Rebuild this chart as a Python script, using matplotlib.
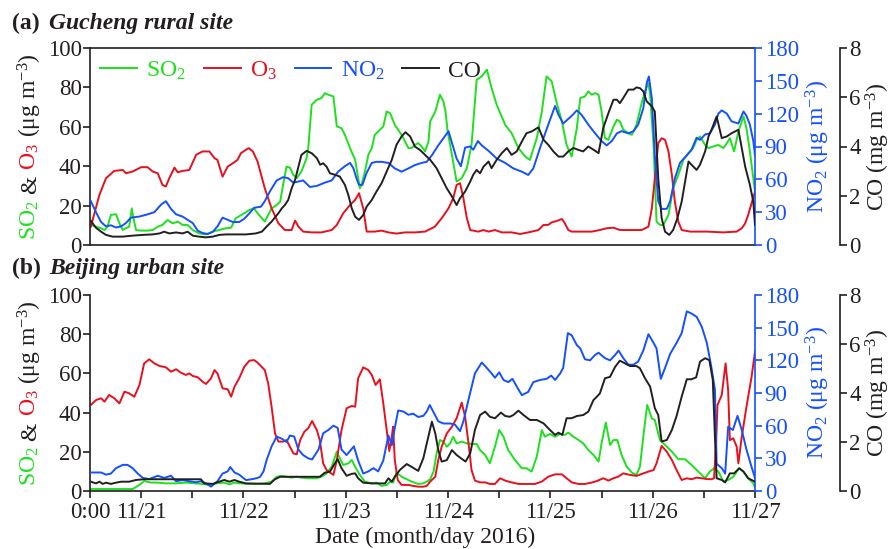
import matplotlib
matplotlib.use('Agg')
import matplotlib.pyplot as plt

plt.rcParams['font.family'] = ['Liberation Serif', 'DejaVu Serif']
plt.rcParams['mathtext.fontset'] = 'custom'
plt.rcParams['mathtext.rm'] = 'Liberation Serif'
plt.rcParams['mathtext.it'] = 'Liberation Serif:italic'
plt.rcParams['mathtext.bf'] = 'Liberation Serif:bold'

GREEN = '#1ee01e'
RED = '#e8101e'
BLUE = '#1450ff'
BLACK = '#231f20'

# ---------------- data: (hours since 11/21 0:00, value) ----------------
# (a) Gucheng rural site
gc_so2 = [(0.2,10.2),(1.4,9.3),(2.6,8.5),(3.4,7.6),(4.1,9.3),(4.9,15.3),(6.1,15.6),(6.9,11.0),(7.7,7.6),(8.4,8.5),(9.2,9.3),(9.8,18.6),(10.2,13.6),(10.8,7.6),(12.0,7.3),(13.5,7.3),(14.7,7.6),(15.9,9.3),(17.0,10.2),(18.2,12.7),(19.4,11.0),(20.6,11.9),(21.7,10.2),(22.9,10.2),(24.1,7.6),(25.6,5.9),(27.2,5.4),(28.8,6.8),(30.3,7.6),(31.9,8.5),(33.1,8.8),(34.2,13.6),(35.8,15.6),(37.4,17.8),(38.5,18.6),(39.3,16.1),(41.0,11.9),(41.8,15.3),(42.6,18.6),(43.8,20.3),(44.6,22.0),(45.3,30.5),(46.1,39.8),(46.9,39.3),(47.7,35.6),(48.5,33.9),(49.6,37.3),(50.8,44.1),(51.2,49.2),(52.0,71.2),(53.2,73.7),(54.3,74.6),(55.1,77.1),(55.9,76.3),(57.1,75.4),(57.9,60.2),(59.0,59.3),(59.8,55.9),(61.0,49.2),(62.2,43.2),(62.9,33.9),(63.3,28.8),(63.7,30.5),(64.5,37.3),(65.3,45.8),(66.1,49.2),(66.8,55.9),(68.0,58.5),(68.8,60.2),(69.6,67.8),(70.4,66.9),(71.5,61.0),(73.1,55.9),(74.7,49.2),(75.4,49.2),(76.2,50.8),(77.0,51.7),(77.8,50.0),(78.6,47.5),(79.4,52.5),(79.8,62.7),(81.0,67.8),(82.1,76.3),(82.9,72.9),(83.4,67.8),(83.9,57.6),(84.9,45.8),(86.0,32.2),(87.2,33.9),(88.4,39.0),(89.5,50.8),(90.7,83.9),(91.9,85.6),(93.1,89.0),(94.2,79.7),(95.4,71.2),(97.4,61.0),(98.9,56.8),(100.5,49.2),(102.1,44.9),(103.2,43.2),(104.8,54.2),(106.0,67.8),(107.1,85.6),(108.3,83.1),(109.5,72.0),(110.7,62.7),(111.8,50.8),(113.0,44.9),(114.2,59.3),(115.0,74.6),(116.1,75.4),(116.9,78.0),(117.7,76.3),(118.5,77.1),(119.3,76.3),(120.0,67.8),(120.8,54.2),(121.6,53.4),(122.8,60.2),(123.6,63.6),(124.3,62.7),(125.1,58.5),(126.3,56.8),(127.1,55.9),(128.2,61.0),(129.4,72.0),(130.2,78.0),(131.0,82.2),(131.4,76.3),(132.2,50.8),(132.9,11.9),(133.7,10.2),(134.5,10.2),(135.7,15.3),(136.8,28.8),(138.0,35.6),(139.2,43.2),(140.4,46.6),(141.5,49.2),(142.3,53.4),(143.1,55.1),(144.3,50.8),(145.1,49.2),(146.2,50.0),(147.4,50.8),(148.6,49.2),(149.4,51.7),(150.1,54.2),(151.1,47.5),(152.1,57.6),(153.3,65.3),(154.0,59.3),(154.8,47.5),(155.6,33.9),(156.0,27.1)]

gc_o3 = [(0.2,9.3),(2.2,25.4),(3.75,33.9),(5.7,37.6),(7.7,38.1),(8.4,36.4),(10.0,37.3),(12.0,39.5),(13.5,39.5),(14.7,37.3),(15.9,36.4),(17.0,30.5),(17.8,29.7),(18.6,33.9),(19.8,39.3),(20.6,36.9),(21.7,37.6),(23.3,38.1),(24.9,45.8),(26.4,47.5),(28.0,47.5),(29.2,44.1),(29.9,43.2),(31.1,34.7),(32.3,39.8),(33.5,41.5),(34.6,43.2),(35.4,46.6),(37.2,49.2),(38.2,47.5),(39.3,42.4),(41.0,28.8),(42.6,18.6),(44.2,11.0),(45.7,7.6),(47.3,7.6),(48.1,12.4),(48.9,9.3),(50.0,6.8),(52.0,6.4),(54.3,6.4),(56.7,7.6),(57.9,10.2),(59.4,16.1),(61.0,20.3),(62.2,22.9),(63.1,26.3),(64.1,18.6),(64.9,6.8),(66.8,6.8),(68.4,7.3),(70.0,6.4),(71.9,5.8),(73.9,6.4),(76.2,6.4),(78.6,6.8),(80.9,9.3),(82.5,13.6),(84.1,18.6),(85.2,23.7),(86.0,30.5),(86.8,31.4),(87.6,23.7),(88.4,13.6),(89.2,7.6),(91.1,6.8),(92.3,7.6),(93.5,6.8),(95.0,7.6),(96.6,6.4),(98.9,6.4),(100.9,5.6),(102.8,6.4),(105.2,7.6),(106.4,10.2),(107.5,10.2),(108.3,11.5),(109.5,12.2),(110.7,13.2),(111.4,11.0),(112.2,7.6),(113.0,6.8),(115.3,6.8),(117.7,6.8),(119.6,7.6),(121.2,8.5),(122.8,8.8),(124.3,7.6),(127.5,7.6),(129.4,7.6),(131.0,9.3),(131.8,18.6),(132.5,33.9),(133.3,51.7),(134.1,54.2),(134.9,53.4),(135.7,47.5),(136.5,35.6),(137.2,22.0),(138.0,11.9),(138.8,7.6),(140.8,6.8),(144.7,6.8),(148.6,6.4),(151.7,6.8),(152.9,8.5),(153.7,11.0),(154.4,15.3),(155.2,21.2),(156.0,27.1)]

gc_no2 = [(0.2,40),(1.4,30),(2.6,21),(3.75,17),(4.9,18),(6.1,16),(7.3,17),(8.4,20),(9.6,25),(11.6,26),(13.5,28),(15.1,30),(16.7,37),(17.8,40),(19.0,33),(20.2,28),(21.7,26),(22.9,23),(24.1,20),(25.3,13),(26.4,11),(27.6,10),(28.8,12),(29.9,17),(31.1,25),(32.3,23),(33.5,21),(35.0,21),(36.2,24),(37.4,29),(38.5,34),(40.1,35),(41.0,40),(42.2,49),(43.8,59),(45.3,62),(46.5,61),(47.7,57),(48.9,58),(50.0,59),(51.6,53),(53.2,54),(55.1,57),(56.7,59),(58.2,67),(59.8,72),(61.0,75),(61.8,70),(62.5,61),(63.1,55),(63.9,55),(64.9,66),(66.1,75),(67.2,76),(68.4,76),(70.0,75),(71.5,70),(73.1,67),(74.7,70),(76.2,73),(77.8,75),(79.0,76),(80.2,82),(81.7,91),(84.1,104),(86.0,79),(87.0,72),(88.0,89),(89.2,90),(89.9,87),(91.0,95),(91.9,91),(93.5,86),(95.4,79),(97.4,75),(99.3,70),(101.3,67),(102.8,64),(104.0,70),(105.6,89),(107.5,110),(109.1,127),(109.9,119),(111.0,111),(113.0,118),(114.2,123),(115.3,119),(116.9,110),(118.5,102),(120.0,95),(121.2,91),(122.4,95),(123.6,102),(124.7,104),(126.3,102),(127.5,104),(128.6,110),(129.8,125),(130.6,148),(131.1,154),(131.8,134),(132.5,82),(133.3,40),(134.1,33),(135.3,33),(136.1,40),(137.2,61),(138.4,75),(140.0,82),(141.1,87),(142.3,98),(143.1,96),(144.3,101),(145.4,102),(146.6,110),(147.4,120),(148.2,123),(149.4,120),(150.5,113),(152.1,111),(153.3,122),(154.0,118),(154.8,110),(155.6,95),(156.0,82)]

gc_co = [(0.2,0.98),(1.4,0.70),(2.6,0.54),(3.75,0.41),(5.3,0.34),(7.7,0.34),(10.0,0.38),(12.4,0.41),(14.7,0.43),(16.3,0.47),(17.4,0.54),(18.6,0.47),(20.2,0.51),(21.7,0.47),(22.9,0.54),(24.1,0.38),(25.6,0.34),(27.2,0.31),(28.8,0.34),(30.3,0.41),(31.9,0.43),(34.2,0.43),(36.6,0.43),(38.9,0.47),(40.3,0.54),(41.4,0.74),(42.6,0.95),(44.2,1.29),(45.0,1.49),(45.7,1.62),(46.5,1.83),(47.3,2.30),(48.1,2.64),(48.9,3.18),(49.6,3.66),(50.8,3.82),(52.0,3.73),(53.2,3.53),(54.0,3.26),(54.7,3.32),(55.5,3.18),(56.3,2.91),(57.5,2.85),(58.6,2.78),(59.8,2.44),(60.6,2.03),(61.4,1.49),(62.2,1.15),(63.1,1.02),(64.1,1.22),(64.9,1.56),(66.1,1.83),(67.2,2.17),(68.4,2.51),(69.6,2.98),(70.8,3.46),(71.9,4.07),(73.1,4.41),(74.0,4.58),(75.1,4.41),(76.2,4.00),(77.4,3.86),(78.6,3.66),(79.8,3.46),(81.3,3.12),(82.5,2.71),(83.7,2.30),(84.9,1.97),(86.0,1.62),(86.8,1.90),(88.0,2.17),(89.2,2.58),(89.9,2.85),(90.7,3.05),(91.5,2.91),(92.3,3.18),(93.5,3.39),(94.2,3.12),(95.4,3.46),(96.6,3.73),(97.8,3.94),(98.9,3.66),(100.1,3.80),(101.3,4.20),(102.4,4.54),(103.6,4.61),(105.2,4.78),(106.4,4.27),(107.5,4.07),(108.7,3.80),(109.9,3.59),(111.0,3.59),(112.2,3.80),(113.4,3.94),(114.6,3.86),(115.7,3.80),(116.9,4.00),(118.2,3.86),(119.3,3.73),(120.4,4.75),(121.6,5.35),(122.8,5.90),(123.6,5.90),(124.3,5.76),(125.1,5.97),(126.3,6.31),(127.5,6.31),(128.2,6.40),(129.0,6.37),(129.8,6.24),(130.6,5.83),(131.8,5.63),(132.5,5.42),(133.3,2.71),(134.1,1.09),(134.9,0.54),(135.9,0.41),(136.8,0.61),(137.8,1.09),(138.8,1.76),(139.6,2.58),(140.4,3.39),(141.1,3.26),(142.3,3.05),(143.1,3.26),(144.3,3.80),(145.1,4.41),(145.8,4.68),(147.0,5.22),(148.2,4.34),(149.4,4.41),(150.5,4.54),(152.1,4.68),(152.9,3.94),(153.7,3.18),(154.8,2.44),(155.6,1.76),(156.0,0.82)]

# (b) Beijing urban site
bj_so2 = [(0.2,1.0),(10.0,1.0),(11.6,3.1),(12.7,5.1),(14.3,4.3),(15.9,4.3),(17.8,3.9),(20.2,3.9),(22.5,4.3),(24.5,3.9),(26.4,3.6),(28.0,3.1),(29.6,3.9),(31.5,4.3),(32.7,3.4),(33.9,4.3),(35.4,3.9),(37.4,3.6),(38.9,3.6),(41.0,3.9),(42.6,4.8),(43.8,7.3),(45.0,7.7),(46.1,7.3),(47.3,6.8),(48.5,7.3),(49.6,6.8),(51.2,6.5),(53.2,6.5),(54.3,7.3),(55.5,9.0),(56.7,12.4),(57.9,20.1),(58.6,16.7),(59.4,13.3),(60.6,14.1),(61.4,15.8),(62.2,12.4),(63.3,8.2),(64.5,4.8),(66.1,3.9),(67.2,4.3),(68.4,2.6),(69.6,3.1),(70.4,4.8),(71.1,4.3),(71.9,9.4),(73.1,7.3),(74.3,6.0),(75.4,4.8),(77.0,3.6),(78.2,3.9),(79.0,4.8),(79.8,6.0),(80.6,9.9),(81.3,19.2),(82.1,26.0),(82.9,25.2),(83.7,22.6),(84.5,24.3),(85.2,27.7),(86.0,24.3),(87.2,25.2),(88.4,24.3),(89.5,24.0),(90.7,24.0),(91.5,20.9),(92.7,18.4),(93.8,14.1),(95.0,22.6),(96.0,31.1),(97.0,27.7),(98.1,20.9),(99.7,15.8),(101.3,11.6),(102.4,11.6),(103.6,9.9),(104.8,17.5),(106.0,31.1),(106.7,27.7),(107.9,29.1),(109.1,27.7),(110.3,29.1),(111.4,28.6),(112.2,29.8),(113.4,27.7),(114.6,26.0),(115.7,24.3),(116.9,20.9),(118.1,18.4),(119.3,15.0),(120.0,24.3),(121.0,34.9),(122.0,23.5),(122.8,26.0),(123.7,26.0),(124.7,18.4),(125.9,12.4),(127.1,9.4),(128.2,8.2),(129.0,12.4),(129.8,27.7),(130.7,43.9),(131.8,37.1),(132.5,36.2),(133.7,26.0),(134.9,23.5),(136.5,20.1),(138.0,16.2),(139.6,16.2),(141.1,13.3),(142.7,9.9),(144.3,6.5),(145.4,9.9),(146.4,11.6),(147.4,9.9),(148.6,4.8),(149.7,5.6),(150.9,7.3),(152.3,11.6),(153.3,9.9),(154.4,6.5),(155.6,3.9),(156.0,1.8)]

bj_o3 = [(0.2,43.9),(1.4,46.4),(2.6,47.3),(3.4,45.6),(4.5,49.0),(5.7,47.3),(6.9,44.7),(8.1,50.7),(9.2,49.8),(10.4,48.1),(11.6,54.1),(12.7,65.1),(13.9,67.2),(15.1,65.1),(16.3,63.8),(17.8,63.1),(19.0,60.9),(20.2,62.1),(21.3,60.4),(22.5,59.2),(23.3,60.0),(24.1,58.7),(25.3,58.0),(26.4,55.8),(27.2,54.6),(28.4,57.5),(29.2,61.7),(29.9,60.0),(31.1,52.4),(32.3,51.9),(33.1,48.1),(33.9,53.2),(35.0,57.5),(36.2,63.4),(37.4,66.5),(38.5,66.8),(39.3,65.5),(41.0,61.7),(41.8,54.9),(42.6,43.0),(43.4,29.4),(44.2,25.2),(45.3,25.2),(46.1,26.0),(46.9,22.6),(47.7,19.2),(48.5,18.7),(49.3,26.0),(50.3,30.3),(51.2,32.0),(52.1,35.7),(53.2,31.1),(53.9,26.0),(54.7,14.1),(55.5,10.7),(56.3,9.4),(57.1,8.2),(57.9,15.8),(59.0,31.1),(60.2,42.2),(61.4,43.4),(62.2,43.0),(62.9,57.5),(64.1,63.1),(65.3,61.7),(66.1,59.2),(67.0,54.1),(68.0,57.0),(68.8,44.7),(69.6,31.1),(70.2,20.4),(70.8,27.7),(71.1,32.8),(71.5,15.8),(72.2,5.6),(73.1,3.1),(74.7,3.1),(75.8,2.6),(77.0,2.2),(78.2,2.2),(79.0,2.6),(79.8,4.8),(81.0,7.3),(81.7,15.8),(82.5,22.6),(83.7,29.4),(84.9,32.8),(86.0,37.1),(87.2,45.1),(88.0,37.9),(88.8,24.3),(89.5,10.7),(90.3,5.3),(91.5,4.4),(92.7,4.4),(93.8,3.6),(95.0,3.6),(96.2,6.5),(97.4,5.3),(98.9,4.4),(100.5,3.6),(102.1,3.6),(104.4,3.6),(106.0,4.8),(107.5,7.3),(109.1,8.5),(110.7,8.5),(111.8,6.5),(113.0,4.4),(114.6,3.6),(116.1,3.6),(117.7,4.3),(118.9,5.1),(120.4,6.5),(121.6,5.3),(122.8,6.5),(123.9,7.3),(125.1,9.0),(126.7,8.2),(128.2,7.7),(129.8,9.0),(131.0,9.9),(132.2,10.7),(132.9,14.1),(134.1,23.0),(135.3,20.1),(136.5,15.8),(137.6,10.7),(138.8,5.6),(140.0,6.5),(141.1,6.0),(142.3,6.8),(143.5,6.5),(144.7,6.1),(145.8,6.0),(146.4,6.5),(146.9,26.0),(147.2,43.9),(148.2,49.0),(149.1,65.1),(149.7,51.5),(150.1,26.0),(150.9,26.9),(151.7,22.6),(152.1,14.1),(152.9,27.7),(154.0,43.0),(155.2,58.3),(156.0,71.1)]

bj_no2 = [(0.2,17),(2.6,17),(3.75,15),(4.9,16),(6.1,21),(7.7,24),(8.8,24),(10.0,21),(11.2,16),(12.4,12),(13.9,11),(15.9,14),(17.4,12),(19.0,14),(20.2,9),(21.7,10),(23.3,9),(24.9,8),(26.0,9),(27.2,7),(28.4,4),(29.9,9),(31.1,16),(32.3,18),(32.9,22),(33.9,17),(35.0,15),(36.6,10),(38.2,11),(39.3,12),(39.9,13),(40.7,18),(41.4,28),(42.6,41),(43.8,50),(45.0,48),(46.1,45),(46.9,51),(47.9,50),(48.9,38),(50.0,33),(51.2,30),(52.1,29),(53.6,38),(54.7,53),(55.9,56),(57.1,60),(58.1,58),(59.0,38),(60.2,33),(61.9,41),(62.9,28),(64.1,16),(65.3,18),(66.5,21),(67.6,18),(68.8,28),(70.0,51),(70.8,42),(71.4,56),(72.3,74),(73.5,73),(74.7,70),(75.8,71),(77.0,68),(78.2,69),(79.0,73),(79.7,79),(81.7,64),(82.9,62),(84.5,62),(85.6,61),(86.8,55),(87.6,64),(88.8,84),(90.3,108),(91.9,118),(93.1,113),(94.2,108),(95.0,104),(96.0,109),(97.0,102),(98.1,100),(99.1,103),(100.1,96),(101.3,88),(102.8,91),(104.0,100),(105.6,102),(107.1,103),(108.2,106),(109.1,102),(110.3,108),(111.0,113),(112.1,145),(113.0,143),(114.2,134),(115.0,131),(116.1,121),(117.3,120),(118.5,125),(119.3,127),(120.8,122),(122.0,120),(123.2,125),(124.0,129),(125.1,122),(126.3,116),(127.5,116),(128.6,119),(129.8,129),(131.0,144),(132.2,136),(132.9,131),(133.9,103),(134.9,113),(136.1,126),(137.6,136),(138.8,145),(140.0,165),(141.1,163),(142.3,160),(143.5,151),(144.7,136),(145.8,113),(146.6,93),(147.0,25),(148.2,21),(149.0,16),(149.7,59),(150.8,56),(151.9,69),(152.9,56),(154.0,38),(155.2,22),(156.0,12)]

bj_co = [(0.2,0.38),(1.4,0.31),(2.2,0.38),(3.0,0.29),(3.75,0.34),(4.9,0.29),(6.1,0.34),(7.3,0.38),(9.2,0.38),(10.8,0.45),(12.7,0.48),(26.0,0.48),(26.8,0.31),(28.8,0.29),(30.3,0.38),(31.5,0.45),(32.7,0.38),(33.9,0.45),(35.0,0.38),(36.6,0.31),(42.2,0.29),(43.4,0.48),(44.6,0.58),(53.9,0.58),(55.1,0.75),(56.3,0.79),(57.2,1.06),(58.1,1.30),(59.0,0.93),(60.2,0.62),(61.4,0.70),(62.2,0.72),(62.9,0.52),(64.1,0.34),(66.1,0.31),(69.2,0.31),(70.0,0.52),(70.8,0.38),(71.5,0.58),(72.7,0.86),(74.3,1.10),(75.4,0.99),(77.0,0.82),(78.2,1.34),(79.0,1.94),(80.2,2.83),(81.0,2.35),(81.7,1.67),(82.5,1.20),(83.7,1.26),(84.9,1.67),(86.0,1.47),(87.0,1.34),(88.1,1.20),(89.2,1.54),(90.3,2.49),(91.5,3.10),(92.7,3.24),(93.8,3.03),(95.0,2.97),(96.4,3.20),(97.4,3.06),(98.5,3.03),(99.3,3.10),(100.5,3.28),(101.7,3.10),(103.2,2.90),(104.8,2.90),(106.4,2.76),(107.9,2.49),(109.1,2.29),(109.9,2.38),(110.8,2.29),(111.8,2.97),(113.0,2.97),(114.2,3.06),(115.7,3.10),(116.9,3.24),(118.1,3.71),(118.9,3.85),(119.6,3.98),(120.8,4.60),(122.0,4.66),(123.2,5.07),(124.3,5.32),(125.5,5.21),(126.7,5.10),(128.2,5.10),(129.0,5.01),(130.2,4.60),(131.4,4.26),(132.5,3.38),(133.3,3.10),(134.1,2.02),(135.3,2.08),(136.5,2.49),(137.6,3.06),(138.8,3.85),(140.0,4.56),(141.1,4.56),(142.2,4.64),(143.1,5.28),(144.3,5.42),(145.3,5.34),(146.1,4.53),(146.6,2.22),(147.0,0.52),(148.2,0.45),(149.0,0.35),(150.1,0.72),(151.1,0.72),(152.3,0.93),(153.3,0.79),(154.4,0.52),(156.0,0.38)]

tick_hours = list(range(0, 157, 12))
tick_labels = {0: '0:00', 12: '11/21', 36: '11/22', 60: '11/23',
               84: '11/24', 108: '11/25', 132: '11/26', 156: '11/27'}

# ---------------- figure ----------------
W, H = 893, 549
fig = plt.figure(figsize=(W / 100, H / 100), dpi=100)
FS = 17
TFS = 16.5
LW = 1.4


def rect_px(l, t, r, b):
    return [l / W, 1 - b / H, (r - l) / W, (b - t) / H]


def panel(rect, so2, o3, no2, co, is_top):
    ax = fig.add_axes(rect)
    ax2 = ax.twinx()
    ax3 = ax.twinx()
    for a in (ax, ax2, ax3):
        a.set_xlim(0, 156)
        for s in a.spines.values():
            s.set_visible(False)
            s.set_linewidth(1.2)
    ax.set_ylim(0, 100)
    ax2.set_ylim(0, 180)
    ax3.set_ylim(0, 8)
    ax.spines['left'].set_visible(True)
    ax.spines['bottom'].set_visible(True)
    if is_top:
        ax.spines['top'].set_visible(True)
    ax2.spines['right'].set_visible(True)
    ax2.spines['right'].set_color(BLUE)
    ax3.spines['right'].set_visible(True)
    ax3.spines['right'].set_position(('outward', 61))
    for s in ax.spines.values():
        s.set_color(BLACK)
    ax3.spines['right'].set_color(BLACK)

    h1, = ax.plot(*zip(*so2), color=GREEN, lw=LW, label='SO$_2$')
    h2, = ax.plot(*zip(*o3), color=RED, lw=LW, label='O$_3$')
    h3, = ax2.plot(*zip(*no2), color=BLUE, lw=LW, label='NO$_2$')
    h4, = ax3.plot(*zip(*co), color=BLACK, lw=LW, label='CO')

    ax.set_yticks(range(0, 101, 20))
    ax2.set_yticks(range(0, 181, 30))
    ax3.set_yticks(range(0, 9, 2))
    ax.tick_params(axis='y', direction='out', length=5, width=1.2,
                   labelsize=TFS, pad=1, colors=BLACK)
    ax2.tick_params(axis='y', direction='out', length=5, width=1.2,
                    labelsize=TFS, pad=2, colors=BLUE)
    ax3.tick_params(axis='y', direction='out', length=5, width=1.2,
                    labelsize=TFS, pad=2, colors=BLACK)
    if is_top:
        ax.tick_params(axis='x', bottom=False, labelbottom=False)
    else:
        ax.set_xticks(tick_hours)
        ax.set_xticklabels([tick_labels.get(t, '') for t in tick_hours])
        ax.tick_params(axis='x', direction='out', length=5, width=1.2,
                       labelsize=TFS, pad=3, colors=BLACK)
    return ax, ax2, ax3, [h1, h2, h3, h4]


axA = panel(rect_px(90, 48, 755, 245), gc_so2, gc_o3, gc_no2, gc_co, True)
axB = panel(rect_px(90, 295, 755, 491), bj_so2, bj_o3, bj_no2, bj_co, False)

# legend
handles = axA[3]
leg = axA[2].legend(handles, [h.get_label() for h in handles], ncol=4,
                    loc='center left', bbox_to_anchor=(0.005, 0.885),
                    frameon=False, fontsize=FS, handlelength=1.55,
                    handletextpad=0.4, columnspacing=0.75, borderpad=0.3,
                    borderaxespad=0)
for txt, c in zip(leg.get_texts(), [GREEN, RED, BLUE, BLACK]):
    txt.set_color(c)

# panel titles
for base, tag, name in [(29, '(a)', 'Gucheng rural site'),
                        (274, '(b)', 'Beijing urban site')]:
    fig.text(12 / W, 1 - base / H, tag, fontsize=FS, fontweight='bold',
             va='baseline', color=BLACK)
    fig.text(49 / W, 1 - base / H, name, fontsize=FS, fontweight='bold',
             fontstyle='italic', va='baseline', color=BLACK)


def vlabel(x_px, yc_px, pieces, fs=FS):
    r = fig.canvas.get_renderer()
    gap = 0.25 * fs * 100 / 72
    ws = []
    for s, c in pieces:
        t = fig.text(0, 0, s, fontsize=fs)
        ws.append(t.get_window_extent(r).width)
        t.remove()
    total = sum(ws) + gap * (len(ws) - 1)
    y = (H - yc_px) - total / 2
    for (s, c), w in zip(pieces, ws):
        fig.text(x_px / W, y / H, s, color=c, fontsize=fs, rotation=90,
                 rotation_mode='anchor', ha='left', va='baseline')
        y += w + gap


left_pieces = [('SO$_2$', GREEN), ('&', BLACK), ('O$_3$', RED),
               ('(μg m$^{-3}$)', BLACK)]
for yc in (146.5, 393):
    vlabel(36, yc, left_pieces)
    fig.text(818 / W, 1 - yc / H, 'NO$_2$ (μg m$^{-3}$)', color=BLUE,
             fontsize=FS, rotation=90, ha='center', va='center')
    fig.text(878 / W, 1 - yc / H, 'CO (mg m$^{-3}$)', color=BLACK,
             fontsize=FS, rotation=90, ha='center', va='center')

fig.text(425 / W, 1 - 537 / H, 'Date (month/day 2016)', fontsize=FS,
         ha='center', va='center', color=BLACK)

fig.savefig('out.png', dpi=100)
